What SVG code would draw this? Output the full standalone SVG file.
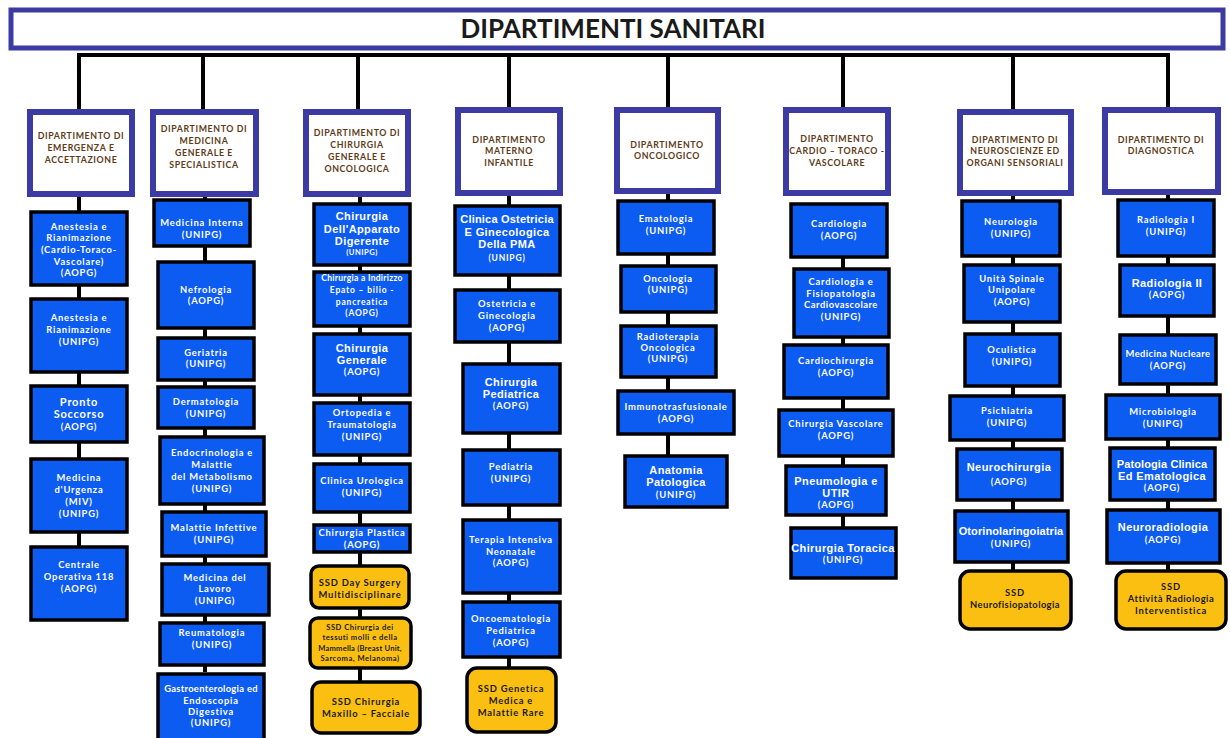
<svg xmlns="http://www.w3.org/2000/svg" width="1230" height="738" viewBox="0 0 1230 738">
<style>
.bg{fill:#ffffff}
.title rect{fill:#ffffff;stroke:#3b3ba3;stroke-width:5}
.title text{font-family:Lato,"Open Sans",sans-serif;font-weight:bold;font-size:26px;fill:#1a1a1a;text-anchor:middle}
.dept rect{fill:#ffffff;stroke:#3b3ba3;stroke-width:6}
.dept text{font-family:Lato,"Open Sans",sans-serif;font-weight:bold;font-size:8.8px;letter-spacing:0.6px;fill:#5e3c18;text-anchor:middle}
.unit rect{fill:#0d5cf2;stroke:#000000;stroke-width:3.5}
.ssd rect{fill:#fbbf12;stroke:#000000;stroke-width:3.5}
.unit text,.ssd text{font-family:Lato,"Open Sans",sans-serif;font-weight:bold;font-size:9.4px;letter-spacing:0.8px;text-anchor:middle}
.unit text{fill:#ffffff}
.ssd text{fill:#1a1a1a}
text.big{font-family:"Liberation Sans",Arial,sans-serif;font-size:11px;letter-spacing:0.4px}
text.sm{font-size:7.6px;letter-spacing:0.5px}
#connectors line{stroke:#000000;stroke-width:4}
</style>
<rect class="bg" x="0" y="0" width="1230" height="738"/>
<g id="connectors">
<line x1="77" y1="55" x2="1170" y2="55"/>
<line x1="79" y1="55" x2="79" y2="110"/>
<line x1="203" y1="55" x2="203" y2="110"/>
<line x1="358" y1="55" x2="358" y2="110"/>
<line x1="509" y1="55" x2="509" y2="108"/>
<line x1="668" y1="55" x2="668" y2="108"/>
<line x1="843" y1="55" x2="843" y2="108"/>
<line x1="1013" y1="55" x2="1013" y2="110"/>
<line x1="1168" y1="55" x2="1168" y2="108"/>
<line x1="79" y1="195" x2="79" y2="546"/>
<line x1="205" y1="195" x2="205" y2="672"/>
<line x1="360" y1="195" x2="360" y2="681"/>
<line x1="509" y1="195" x2="509" y2="667"/>
<line x1="668" y1="193" x2="668" y2="455"/>
<line x1="843" y1="257" x2="843" y2="527"/>
<line x1="1013" y1="195" x2="1013" y2="570"/>
<line x1="1168" y1="193" x2="1168" y2="570"/>
</g>
<g id="title" class="title"><rect x="11" y="10" width="1212" height="38"/><text x="613" y="38">DIPARTIMENTI SANITARI</text></g>

<g id="d1" class="dept"><rect x="30" y="112" width="102" height="82"/><text x="81" y="139">DIPARTIMENTO DI</text><text x="81" y="151">EMERGENZA E</text><text x="81" y="163">ACCETTAZIONE</text></g>
<g id="d2" class="dept"><rect x="153" y="112" width="103" height="82"/><text x="204" y="132">DIPARTIMENTO DI</text><text x="204" y="144">MEDICINA</text><text x="204" y="156">GENERALE E</text><text x="204" y="168">SPECIALISTICA</text></g>
<g id="d3" class="dept"><rect x="306" y="112" width="102" height="82"/><text x="357" y="136">DIPARTIMENTO DI</text><text x="357" y="148">CHIRURGIA</text><text x="357" y="160">GENERALE E</text><text x="357" y="172">ONCOLOGICA</text></g>
<g id="d4" class="dept"><rect x="458" y="110" width="102" height="83"/><text x="509" y="143">DIPARTIMENTO</text><text x="509" y="154">MATERNO</text><text x="509" y="166">INFANTILE</text></g>
<g id="d5" class="dept"><rect x="617" y="110" width="101" height="81"/><text x="667" y="148">DIPARTIMENTO</text><text x="667" y="159">ONCOLOGICO</text></g>
<g id="d6" class="dept"><rect x="786" y="110" width="102" height="83"/><text x="837" y="142">DIPARTIMENTO</text><text x="837" y="154">CARDIO – TORACO -</text><text x="837" y="166">VASCOLARE</text></g>
<g id="d7" class="dept"><rect x="960" y="112" width="111" height="81"/><text x="1015" y="143">DIPARTIMENTO DI</text><text x="1015" y="154">NEUROSCIENZE ED</text><text x="1015" y="166">ORGANI SENSORIALI</text></g>
<g id="d8" class="dept"><rect x="1105" y="110" width="113" height="82"/><text x="1161" y="143">DIPARTIMENTO DI</text><text x="1161" y="154">DIAGNOSTICA</text></g>

<!-- Column 1 -->
<g id="c1a" class="unit"><rect x="31" y="212" width="96" height="73"/><text x="79" y="230">Anestesia e</text><text x="79" y="241">Rianimazione</text><text x="79" y="253">(Cardio-Toraco-</text><text x="79" y="265">Vascolare)</text><text x="79" y="276">(AOPG)</text></g>
<g id="c1b" class="unit"><rect x="31" y="299" width="96" height="73"/><text x="79" y="321">Anestesia e</text><text x="79" y="333">Rianimazione</text><text x="79" y="345">(UNIPG)</text></g>
<g id="c1c" class="unit"><rect x="31" y="386" width="96" height="56"/><text x="79" y="406" style="font-size:11px">Pronto</text><text x="79" y="418" style="font-size:11px">Soccorso</text><text x="79" y="430">(AOPG)</text></g>
<g id="c1d" class="unit"><rect x="31" y="459" width="96" height="73"/><text x="79" y="481">Medicina</text><text x="79" y="493">d'Urgenza</text><text x="79" y="505">(MIV)</text><text x="79" y="517">(UNIPG)</text></g>
<g id="c1e" class="unit"><rect x="31" y="547" width="96" height="73"/><text x="79" y="568">Centrale</text><text x="79" y="580">Operativa 118</text><text x="79" y="592">(AOPG)</text></g>

<!-- Column 2 -->
<g id="c2a" class="unit"><rect x="154" y="200" width="96" height="46"/><text x="202" y="226">Medicina Interna</text><text x="202" y="238">(UNIPG)</text></g>
<g id="c2b" class="unit"><rect x="158" y="262" width="96" height="66"/><text x="206" y="293">Nefrologia</text><text x="206" y="304">(AOPG)</text></g>
<g id="c2c" class="unit"><rect x="158" y="338" width="96" height="42"/><text x="206" y="356">Geriatria</text><text x="206" y="367">(UNIPG)</text></g>
<g id="c2d" class="unit"><rect x="158" y="387" width="96" height="41"/><text x="206" y="405">Dermatologia</text><text x="206" y="417">(UNIPG)</text></g>
<g id="c2e" class="unit"><rect x="160" y="437" width="104" height="67"/><text x="212" y="456">Endocrinologia e</text><text x="212" y="468">Malattie</text><text x="212" y="480">del Metabolismo</text><text x="212" y="492">(UNIPG)</text></g>
<g id="c2f" class="unit"><rect x="162" y="512" width="104" height="44"/><text x="214" y="531">Malattie Infettive</text><text x="214" y="543">(UNIPG)</text></g>
<g id="c2g" class="unit"><rect x="162" y="564" width="107" height="51"/><text x="215" y="581">Medicina del</text><text x="215" y="592">Lavoro</text><text x="215" y="604">(UNIPG)</text></g>
<g id="c2h" class="unit"><rect x="160" y="623" width="104" height="42"/><text x="212" y="636">Reumatologia</text><text x="212" y="648">(UNIPG)</text></g>
<g id="c2i" class="unit"><rect x="158" y="674" width="106" height="70"/><text x="211" y="692" style="letter-spacing:0.3px">Gastroenterologia ed</text><text x="211" y="704">Endoscopia</text><text x="211" y="715">Digestiva</text><text x="211" y="726">(UNIPG)</text></g>

<!-- Column 3 -->
<g id="c3a" class="unit"><rect x="314" y="204" width="96" height="61"/><text x="362" y="220" class="big">Chirurgia</text><text x="362" y="233" class="big">Dell'Apparato</text><text x="362" y="245" class="big">Digerente</text><text x="362" y="255" class="sm">(UNIPG)</text></g>
<g id="c3b" class="unit"><rect x="314" y="272" width="96" height="54"/><text x="362" y="281" style="font-size:8.5px;letter-spacing:0.3px">Chirurgia a Indirizzo</text><text x="362" y="293" style="font-size:8.5px">Epato – bilio -</text><text x="362" y="305" style="font-size:8.5px">pancreatica</text><text x="362" y="316" style="font-size:8.5px">(AOPG)</text></g>
<g id="c3c" class="unit"><rect x="314" y="334" width="96" height="61"/><text x="362" y="352" class="big">Chirurgia</text><text x="362" y="364" class="big">Generale</text><text x="362" y="375">(AOPG)</text></g>
<g id="c3d" class="unit"><rect x="314" y="403" width="96" height="52"/><text x="362" y="416">Ortopedia e</text><text x="362" y="428">Traumatologia</text><text x="362" y="440">(UNIPG)</text></g>
<g id="c3e" class="unit"><rect x="314" y="464" width="96" height="48"/><text x="362" y="484">Clinica Urologica</text><text x="362" y="496">(UNIPG)</text></g>
<g id="c3f" class="unit"><rect x="314" y="525" width="96" height="27"/><text x="362" y="536">Chirurgia Plastica</text><text x="362" y="548">(AOPG)</text></g>
<g id="c3g" class="ssd"><rect x="311" y="566" width="98" height="42" rx="8"/><text x="360" y="586">SSD Day Surgery</text><text x="360" y="598">Multidisciplinare</text></g>
<g id="c3h" class="ssd"><rect x="310" y="618" width="101" height="50" rx="8"/><text x="360" y="630" class="sm">SSD Chirurgia dei</text><text x="360" y="640" class="sm">tessuti molli e della</text><text x="360" y="651" class="sm" style="letter-spacing:0.2px">Mammella (Breast Unit,</text><text x="360" y="661" class="sm">Sarcoma, Melanoma)</text></g>
<g id="c3i" class="ssd"><rect x="312" y="682" width="108" height="51" rx="9"/><text x="366" y="705">SSD Chirurgia</text><text x="366" y="717">Maxillo – Facciale</text></g>

<!-- Column 4 -->
<g id="c4a" class="unit"><rect x="455" y="206" width="105" height="69"/><text x="507" y="223" class="big" style="letter-spacing:0.2px">Clinica Ostetricia</text><text x="507" y="236" class="big">E Ginecologica</text><text x="507" y="248" class="big">Della PMA</text><text x="507" y="261" style="font-size:8.5px">(UNIPG)</text></g>
<g id="c4b" class="unit"><rect x="455" y="290" width="105" height="52"/><text x="507" y="307">Ostetricia e</text><text x="507" y="319">Ginecologia</text><text x="507" y="331">(AOPG)</text></g>
<g id="c4c" class="unit"><rect x="463" y="364" width="97" height="69"/><text x="511" y="386" class="big">Chirurgia</text><text x="511" y="398" class="big">Pediatrica</text><text x="511" y="409">(AOPG)</text></g>
<g id="c4d" class="unit"><rect x="463" y="450" width="97" height="55"/><text x="511" y="470">Pediatria</text><text x="511" y="482">(UNIPG)</text></g>
<g id="c4e" class="unit"><rect x="463" y="520" width="97" height="73"/><text x="511" y="543">Terapia Intensiva</text><text x="511" y="555">Neonatale</text><text x="511" y="566">(AOPG)</text></g>
<g id="c4f" class="unit"><rect x="463" y="602" width="97" height="55"/><text x="511" y="622">Oncoematologia</text><text x="511" y="634">Pediatrica</text><text x="511" y="646">(AOPG)</text></g>
<g id="c4g" class="ssd"><rect x="467" y="668" width="89" height="64" rx="10"/><text x="511" y="692">SSD Genetica</text><text x="511" y="704">Medica e</text><text x="511" y="716">Malattie Rare</text></g>

<!-- Column 5 -->
<g id="c5a" class="unit"><rect x="618" y="201" width="96" height="53"/><text x="666" y="222">Ematologia</text><text x="666" y="234">(UNIPG)</text></g>
<g id="c5b" class="unit"><rect x="621" y="266" width="95" height="46"/><text x="668" y="282">Oncologia</text><text x="668" y="293">(UNIPG)</text></g>
<g id="c5c" class="unit"><rect x="621" y="326" width="95" height="51"/><text x="668" y="340">Radioterapia</text><text x="668" y="351">Oncologica</text><text x="668" y="362">(UNIPG)</text></g>
<g id="c5d" class="unit"><rect x="618" y="391" width="116" height="43"/><text x="676" y="410">Immunotrasfusionale</text><text x="676" y="422">(AOPG)</text></g>
<g id="c5e" class="unit"><rect x="625" y="456" width="102" height="51"/><text x="676" y="474" class="big">Anatomia</text><text x="676" y="486" class="big">Patologica</text><text x="676" y="498">(UNIPG)</text></g>

<!-- Column 6 -->
<g id="c6a" class="unit"><rect x="791" y="204" width="96" height="53"/><text x="839" y="227">Cardiologia</text><text x="839" y="239">(AOPG)</text></g>
<g id="c6b" class="unit"><rect x="794" y="269" width="95" height="68"/><text x="841" y="285">Cardiologia e</text><text x="841" y="297">Fisiopatologia</text><text x="841" y="308" style="letter-spacing:0.5px">Cardiovascolare</text><text x="841" y="320">(UNIPG)</text></g>
<g id="c6c" class="unit"><rect x="784" y="345" width="104" height="53"/><text x="836" y="364">Cardiochirurgia</text><text x="836" y="376">(AOPG)</text></g>
<g id="c6d" class="unit"><rect x="779" y="410" width="114" height="46"/><text x="836" y="427">Chirurgia Vascolare</text><text x="836" y="439">(AOPG)</text></g>
<g id="c6e" class="unit"><rect x="786" y="466" width="100" height="49"/><text x="836" y="485" class="big">Pneumologia e</text><text x="836" y="497" class="big">UTIR</text><text x="836" y="508">(AOPG)</text></g>
<g id="c6f" class="unit"><rect x="791" y="528" width="105" height="50"/><text x="843" y="552" class="big">Chirurgia Toracica</text><text x="843" y="563">(UNIPG)</text></g>

<!-- Column 7 -->
<g id="c7a" class="unit"><rect x="962" y="201" width="98" height="55"/><text x="1011" y="225">Neurologia</text><text x="1011" y="237">(UNIPG)</text></g>
<g id="c7b" class="unit"><rect x="964" y="265" width="96" height="57"/><text x="1012" y="282">Unità Spinale</text><text x="1012" y="293">Unipolare</text><text x="1012" y="305">(AOPG)</text></g>
<g id="c7c" class="unit"><rect x="965" y="334" width="95" height="52"/><text x="1012" y="353">Oculistica</text><text x="1012" y="365">(UNIPG)</text></g>
<g id="c7d" class="unit"><rect x="950" y="396" width="114" height="44"/><text x="1007" y="414">Psichiatria</text><text x="1007" y="426">(UNIPG)</text></g>
<g id="c7e" class="unit"><rect x="957" y="449" width="105" height="51"/><text x="1009" y="471" class="big">Neurochirurgia</text><text x="1009" y="485">(AOPG)</text></g>
<g id="c7f" class="unit"><rect x="955" y="511" width="113" height="51"/><text x="1011" y="535" class="big" style="letter-spacing:0.1px">Otorinolaringoiatria</text><text x="1011" y="547">(UNIPG)</text></g>
<g id="c7g" class="ssd"><rect x="960" y="571" width="111" height="58" rx="10"/><text x="1015" y="596">SSD</text><text x="1015" y="608" style="letter-spacing:0.4px">Neurofisiopatologia</text></g>

<!-- Column 8 -->
<g id="c8a" class="unit"><rect x="1118" y="200" width="96" height="56"/><text x="1166" y="223">Radiologia I</text><text x="1166" y="235">(UNIPG)</text></g>
<g id="c8b" class="unit"><rect x="1120" y="265" width="94" height="51"/><text x="1167" y="287" class="big">Radiologia II</text><text x="1167" y="298">(AOPG)</text></g>
<g id="c8c" class="unit"><rect x="1120" y="335" width="96" height="49"/><text x="1168" y="357" style="letter-spacing:0.4px">Medicina Nucleare</text><text x="1168" y="369">(AOPG)</text></g>
<g id="c8d" class="unit"><rect x="1106" y="395" width="114" height="44"/><text x="1163" y="415">Microbiologia</text><text x="1163" y="427">(UNIPG)</text></g>
<g id="c8e" class="unit"><rect x="1110" y="448" width="105" height="52"/><text x="1162" y="468" class="big" style="letter-spacing:0.1px">Patologia Clinica</text><text x="1162" y="480" class="big">Ed Ematologica</text><text x="1162" y="491">(AOPG)</text></g>
<g id="c8f" class="unit"><rect x="1107" y="510" width="113" height="53"/><text x="1163" y="531" class="big">Neuroradiologia</text><text x="1163" y="543">(AOPG)</text></g>
<g id="c8g" class="ssd"><rect x="1116" y="571" width="110" height="58" rx="10"/><text x="1171" y="590">SSD</text><text x="1171" y="602" style="letter-spacing:0.5px">Attività Radiologia</text><text x="1171" y="614">Interventistica</text></g>
</svg>
